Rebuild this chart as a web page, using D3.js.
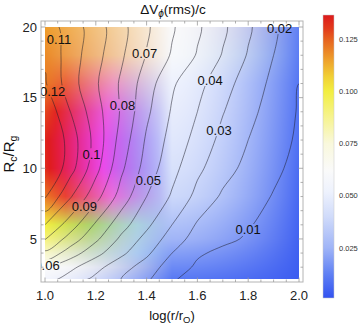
<!DOCTYPE html>
<html>
<head>
<meta charset="utf-8">
<script src="https://cdn.jsdelivr.net/npm/d3@7"></script>
<style>
  body { margin: 0; background: #fff; }
  svg { display: block; font-family: "Liberation Sans", Arial, sans-serif; }
</style>
</head>
<body>
<svg id="chart" width="359" height="326"></svg>
<script>
// grid columns, log(r/rO)
var logR = [1.0, 1.1, 1.2, 1.3, 1.4, 1.5, 1.6, 1.7, 1.8, 1.9, 2.0];
// grid rows, Rc/Rg (top to bottom)
var rcRg = [20, 18, 16, 14, 12, 10, 8, 6, 5, 4, 3, 2.2];
// dVphi(rms)/c, one row per rcRg value
var dv = [
  [0.1155, 0.1055, 0.0947, 0.0831, 0.0715, 0.0612, 0.0517, 0.0420, 0.0316, 0.0218, 0.0125],
  [0.1185, 0.1050, 0.0935, 0.0815, 0.0695, 0.0590, 0.0492, 0.0393, 0.0292, 0.0200, 0.0115],
  [0.1210, 0.1043, 0.0913, 0.0786, 0.0650, 0.0514, 0.0431, 0.0340, 0.0254, 0.0177, 0.0100],
  [0.1285, 0.1100, 0.0940, 0.0790, 0.0620, 0.0490, 0.0400, 0.0305, 0.0227, 0.0159, 0.0092],
  [0.1340, 0.1155, 0.0964, 0.0760, 0.0586, 0.0464, 0.0367, 0.0271, 0.0200, 0.0141, 0.0085],
  [0.1330, 0.1140, 0.0933, 0.0720, 0.0557, 0.0433, 0.0322, 0.0238, 0.0172, 0.0117, 0.0075],
  [0.1210, 0.1009, 0.0836, 0.0658, 0.0500, 0.0388, 0.0270, 0.0185, 0.0135, 0.0095, 0.0065],
  [0.1000, 0.0850, 0.0685, 0.0540, 0.0422, 0.0300, 0.0189, 0.0140, 0.0105, 0.0078, 0.0055],
  [0.0905, 0.0757, 0.0620, 0.0480, 0.0368, 0.0255, 0.0155, 0.0120, 0.0090, 0.0068, 0.0050],
  [0.0780, 0.0650, 0.0533, 0.0422, 0.0320, 0.0200, 0.0112, 0.0080, 0.0065, 0.0055, 0.0045],
  [0.0620, 0.0525, 0.0430, 0.0340, 0.0255, 0.0150, 0.0085, 0.0068, 0.0058, 0.0048, 0.0040],
  [0.0550, 0.0460, 0.0380, 0.0300, 0.0220, 0.0110, 0.0070, 0.0060, 0.0052, 0.0044, 0.0036]
];
var levels = [0.01, 0.02, 0.03, 0.04, 0.05, 0.06, 0.07, 0.08, 0.09, 0.1, 0.11, 0.12];
// where each contour carries its label
var labelAt = [
  {v: 0.11, x: 1.055, y: 19.15},
  {v: 0.12, x: 1.030, y: 15.45},
  {v: 0.1,  x: 1.183, y: 11.0},
  {v: 0.09, x: 1.155, y: 7.33},
  {v: 0.06, x: 1.008, y: 3.16},
  {v: 0.08, x: 1.305, y: 14.48},
  {v: 0.07, x: 1.392, y: 18.16},
  {v: 0.05, x: 1.407, y: 9.17},
  {v: 0.04, x: 1.650, y: 16.25},
  {v: 0.03, x: 1.685, y: 12.71},
  {v: 0.02, x: 1.924, y: 19.93},
  {v: 0.01, x: 1.800, y: 5.64}
];
var xTicks = [1.0, 1.2, 1.4, 1.6, 1.8, 2.0];
var yTicks = [5, 10, 15, 20];
var barTicks = [0.025, 0.05, 0.075, 0.1, 0.125];
// colour bar (TemperatureMap look)
var barStops  = [0.0011, 0.0125, 0.025, 0.040, 0.052, 0.062, 0.075, 0.088, 0.100, 0.107, 0.115, 0.125, 0.130, 0.1365];
var barColors = ["#3252f0", "#5f80f4", "#9fb4f7", "#d0dbfa", "#eef2fd", "#fafafa", "#f9f8dc", "#f6f38c",
                 "#f2ee40", "#f1d035", "#eea02c", "#e6611f", "#e23b1c", "#dc1a1c"];

var svg = d3.select("#chart");
var x = d3.scaleLinear().domain([1, 2]).range([45, 299]);
var y = d3.scaleLinear().domain([2.2, 20]).range([278.5, 27]);
var color = d3.scaleLinear().domain(barStops).range(barColors).interpolate(d3.interpolateRgb).clamp(true);

var nx = logR.length, ny = rcRg.length;
var colVal = d3.scaleLinear().domain(d3.range(nx)).range(logR);
var rowVal = d3.scaleLinear().domain(d3.range(ny)).range(rcRg);
var rowIdx = d3.scaleLinear().domain(rcRg).range(d3.range(ny)).clamp(true);

// ---- shading: coarse mesh of vertex colours, blended along x partly round the hue wheel
var meshCols = [0, 5, 10];
var meshX = meshCols.map(function(c) { return logR[c]; });
var node = dv.map(function(row) {
  return meshCols.map(function(c) {
    var rgb = d3.rgb(color(row[c]));
    var chroma = (Math.max(rgb.r, rgb.g, rgb.b) - Math.min(rgb.r, rgb.g, rgb.b)) / 255;
    return {rgb: rgb, hsl: d3.hsl(rgb), chroma: chroma};
  });
});
function clamp01(v) { return Math.max(0, Math.min(1, v)); }
function hslPath(a, b, dh, t) {
  var sa = a.hsl.s || 0, sb = b.hsl.s || 0;
  var ha = isNaN(a.hsl.h) ? (isNaN(b.hsl.h) ? 0 : b.hsl.h) : a.hsl.h;
  return d3.hsl(ha + dh * t, sa + (sb - sa) * t,
                a.hsl.l + (b.hsl.l - a.hsl.l) * Math.pow(t, 1.7)).rgb();
}
function mixX(a, b, t) {
  var ha = a.hsl.h, hb = b.hsl.h;
  if (isNaN(ha)) ha = hb;
  if (isNaN(hb)) hb = ha;
  if (isNaN(ha)) ha = hb = 0;
  var dpos = ((hb - ha) % 360 + 360) % 360, dneg = dpos - 360;
  var pale = clamp01((Math.min(a.chroma, b.chroma) - 0.02) / 0.07);
  var wm = clamp01((200 - Math.abs(dneg)) / 50) * (dneg < -60 ? pale : 1);
  var wg = clamp01((185 - dpos) / 50) * (dpos > 60 ? pale : 1);
  if (wm + wg > 1) { var s = wm + wg; wm /= s; wg /= s; }
  var wr = 1 - wm - wg;
  var cm = hslPath(a, b, dneg, t), cg = hslPath(a, b, dpos, t);
  return ["r", "g", "b"].map(function(ch) {
    return wm * cm[ch] + wg * cg[ch] + wr * (a.rgb[ch] + (b.rgb[ch] - a.rgb[ch]) * t);
  });
}

var x0 = x(1), y0 = y(20);
var W = Math.round(x(2) - x0), H = Math.round(y(2.2) - y0);
var canvas = document.createElement("canvas");
canvas.width = W; canvas.height = H;
var ctx = canvas.getContext("2d");
var img = ctx.createImageData(W, H);
for (var j = 0; j < H; j++) {
  var ri = rowIdx(y.invert(y0 + j + 0.5));
  var r0 = Math.min(Math.floor(ri), ny - 2), ty = ri - r0;
  for (var i = 0; i < W; i++) {
    var xv = x.invert(x0 + i + 0.5);
    var c0 = Math.max(0, Math.min(d3.bisectRight(meshX, xv) - 1, meshX.length - 2));
    var tx = (xv - meshX[c0]) / (meshX[c0 + 1] - meshX[c0]);
    var ca = mixX(node[r0][c0], node[r0][c0 + 1], tx);
    var cb = mixX(node[r0 + 1][c0], node[r0 + 1][c0 + 1], tx);
    var k = (j * W + i) * 4;
    img.data[k]     = ca[0] + (cb[0] - ca[0]) * ty;
    img.data[k + 1] = ca[1] + (cb[1] - ca[1]) * ty;
    img.data[k + 2] = ca[2] + (cb[2] - ca[2]) * ty;
    img.data[k + 3] = 255;
  }
}
ctx.putImageData(img, 0, 0);

var defs = svg.append("defs");
defs.append("clipPath").attr("id", "plotClip")
  .append("rect").attr("x", x0).attr("y", y0).attr("width", W).attr("height", H);
defs.append("clipPath").attr("id", "frameClip")
  .append("rect").attr("x", 41).attr("y", 21).attr("width", 262).attr("height", 261);

svg.append("image")
  .attr("x", x0).attr("y", y0).attr("width", W).attr("height", H)
  .attr("preserveAspectRatio", "none")
  .attr("href", canvas.toDataURL());

// ---- contour lines
var contours = d3.contours().size([nx, ny]).thresholds(levels)(d3.merge(dv));
function toPx(p) { return [x(colVal(p[0] - 0.5)), y(rowVal(p[1] - 0.5))]; }
function onEdge(p) { return p[0] === 0 || p[0] === nx || p[1] === 0 || p[1] === ny; }
function runs(ring) {
  var n = ring.length - 1, start = -1, out = [], cur = [];
  for (var i = 0; i < n; i++) {
    if (onEdge(ring[i]) && onEdge(ring[(i + 1) % n])) { start = (i + 1) % n; break; }
  }
  if (start < 0) return [{closed: true, pts: ring.slice(0, n)}];
  for (var k = 0; k < n; k++) {
    var p = ring[(start + k) % n], q = ring[(start + k + 1) % n];
    cur.push(p);
    if (onEdge(p) && onEdge(q)) {
      if (cur.length > 1) out.push({closed: false, pts: cur});
      cur = [];
    }
  }
  if (cur.length > 1) out.push({closed: false, pts: cur});
  return out;
}
var lines = [];
contours.forEach(function(c) {
  c.coordinates.forEach(function(poly) {
    poly.forEach(function(ring) {
      runs(ring).forEach(function(r) { lines.push(r); });
    });
  });
});
var openLine = d3.line().curve(d3.curveCatmullRom.alpha(0.5));
var closedLine = d3.line().curve(d3.curveCatmullRomClosed.alpha(0.5));

// labels first, so the lines can be cut around them
var labelG = svg.append("g").attr("clip-path", "url(#frameClip)");
var labels = labelG.selectAll("text").data(labelAt).enter().append("text")
  .attr("x", function(d) { return x(d.x); })
  .attr("y", function(d) { return y(d.y) + 4.6; })
  .attr("text-anchor", "middle")
  .style("font-size", "13px")
  .style("fill", "#111")
  .text(function(d) { return String(d.v); });

var mask = defs.append("mask").attr("id", "labelMask");
mask.append("rect").attr("x", 0).attr("y", 0).attr("width", 359).attr("height", 326).attr("fill", "#fff");
labels.each(function() {
  var b = this.getBBox();
  mask.append("rect").attr("x", b.x - 0.5).attr("y", b.y + 1.5)
    .attr("width", b.width + 1).attr("height", b.height - 3).attr("fill", "#000");
});

svg.insert("g", "g")
  .attr("clip-path", "url(#plotClip)")
  .append("g").attr("mask", "url(#labelMask)")
  .selectAll("path").data(lines).enter().append("path")
  .attr("d", function(d) {
    var pts = d.pts.map(toPx);
    return d.closed ? closedLine(pts) : openLine(pts);
  })
  .attr("fill", "none")
  .attr("stroke", "#1e1e2a")
  .attr("stroke-opacity", 0.8)
  .attr("stroke-width", 0.65);

// ---- frame and ticks
var frame = svg.append("g");
frame.append("rect").attr("x", 41).attr("y", 21).attr("width", 262).attr("height", 261)
  .attr("fill", "none").attr("stroke", "#b4b4b4").attr("stroke-width", 1);
var xMinor = d3.range(1, 2.0001, 0.05).filter(function(v) { return Math.abs(v * 5 - Math.round(v * 5)) > 1e-6; });
var yMinor = d3.range(3, 20, 1).filter(function(v) { return v % 5 !== 0; });
function xt(vals, len) {
  vals.forEach(function(v) {
    frame.append("line").attr("x1", x(v)).attr("x2", x(v)).attr("y1", 282).attr("y2", 282 - len);
    frame.append("line").attr("x1", x(v)).attr("x2", x(v)).attr("y1", 21).attr("y2", 21 + len);
  });
}
function yt(vals, len) {
  vals.forEach(function(v) {
    frame.append("line").attr("y1", y(v)).attr("y2", y(v)).attr("x1", 41).attr("x2", 41 + len);
    frame.append("line").attr("y1", y(v)).attr("y2", y(v)).attr("x1", 303).attr("x2", 303 - len);
  });
}
xt(xTicks, 4.5); xt(xMinor, 2.5);
yt(yTicks, 4.5); yt(yMinor, 2.5);
frame.selectAll("line").attr("stroke", "#9a9a9a").attr("stroke-width", 0.8);

svg.append("g").selectAll("text").data(xTicks).enter().append("text")
  .attr("x", function(d) { return x(d); }).attr("y", 300)
  .attr("text-anchor", "middle").style("font-size", "13px").style("fill", "#222")
  .text(d3.format(".1f"));
svg.append("g").selectAll("text").data(yTicks).enter().append("text")
  .attr("x", 37).attr("y", function(d) { return y(d) + 4.6; })
  .attr("text-anchor", "end").style("font-size", "13px").style("fill", "#222")
  .text(function(d) { return d; });

// ---- titles
var title = svg.append("text").attr("x", 173).attr("y", 14).attr("text-anchor", "middle")
  .style("font-size", "13.5px").style("fill", "#111");
title.append("tspan").text("\u0394V");
title.append("tspan").attr("dy", 3).style("font-size", "10px").style("font-style", "italic").text("\u03d5");
title.append("tspan").attr("dy", -3).text("(rms)/c");

var xl = svg.append("text").attr("x", 172).attr("y", 320).attr("text-anchor", "middle")
  .style("font-size", "13px").style("fill", "#111");
xl.append("tspan").text("log(r/r");
xl.append("tspan").attr("dy", 3).style("font-size", "9.5px").text("O");
xl.append("tspan").attr("dy", -3).text(")");

var yl = svg.append("text").attr("transform", "translate(14,154) rotate(-90)").attr("text-anchor", "middle")
  .style("font-size", "15px").style("fill", "#111");
yl.append("tspan").text("R");
yl.append("tspan").attr("dy", 3).style("font-size", "10.5px").text("c");
yl.append("tspan").attr("dy", -3).text("/R");
yl.append("tspan").attr("dy", 3).style("font-size", "10.5px").text("g");

// ---- colour bar
var barY = d3.scaleLinear().domain([0.0011, 0.1365]).range([298, 15]);
var grad = defs.append("linearGradient").attr("id", "barGrad")
  .attr("x1", 0).attr("y1", 1).attr("x2", 0).attr("y2", 0);
barStops.forEach(function(v, i) {
  grad.append("stop").attr("offset", (v - 0.0011) / (0.1365 - 0.0011)).attr("stop-color", barColors[i]);
});
svg.append("rect").attr("x", 323).attr("y", barY(0.1365)).attr("width", 11)
  .attr("height", barY(0.0011) - barY(0.1365))
  .attr("fill", "url(#barGrad)").attr("stroke", "#c8c8c8").attr("stroke-width", 0.5);
svg.append("g").selectAll("text").data(barTicks).enter().append("text")
  .attr("x", 339).attr("y", function(d) { return barY(d) + 2.6; })
  .style("font-size", "7.5px").style("fill", "#333")
  .text(d3.format(".3f"));
</script>
</body>
</html>
